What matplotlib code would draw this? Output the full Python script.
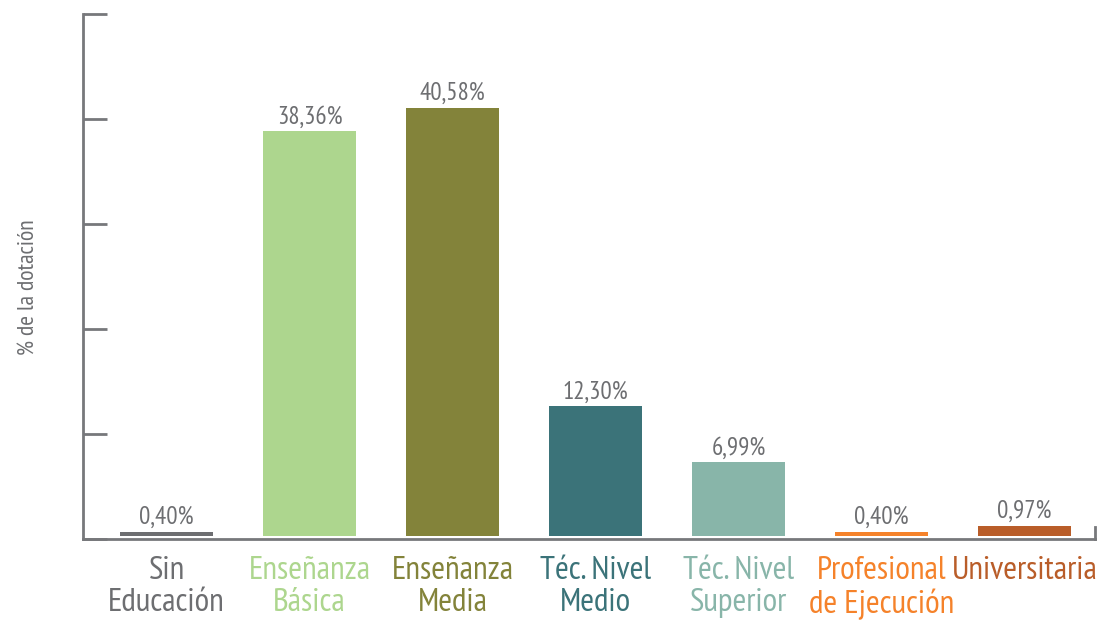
import numpy as np
import matplotlib
matplotlib.use('Agg')
import matplotlib.pyplot as plt
from matplotlib import font_manager

# data
categories = ['Sin\nEducación', 'Enseñanza\nBásica', 'Enseñanza\nMedia',
              'Téc. Nivel\nMedio', 'Téc. Nivel\nSuperior',
              'Profesional\nde Ejecución', 'Universitaria']
values = [0.40, 38.36, 40.58, 12.30, 6.99, 0.40, 0.97]
value_labels = ['0,40%', '38,36%', '40,58%', '12,30%', '6,99%', '0,40%', '0,97%']
colors = ['#6d6e71', '#add68e', '#83833a', '#3b7379', '#88b5a9', '#f5822a', '#b95d29']
label_colors = ['#6d6e71', '#add68e', '#83833a', '#3b7379', '#88b5a9', '#f5822a', '#b95d29']

# condensed font similar to the original
available = {f.name for f in font_manager.fontManager.ttflist}
font = 'DejaVu Sans'
for cand in ['PT Sans Narrow', 'Fira Sans Condensed', 'Asap Condensed', 'Barlow Condensed']:
    if cand in available:
        font = cand
        break
plt.rcParams['font.family'] = [font, 'DejaVu Sans']

gray = '#6d6e71'
axis_gray = '#77787b'

fig = plt.figure(figsize=(11, 6.22), dpi=100)
ax = fig.add_axes([83 / 1100, 1 - 539 / 622, 1012 / 1100, 525 / 622])

x = np.arange(len(categories))
bars = ax.bar(x, values, width=0.65, color=colors)

ymin, ymax = -0.28, 49.48
ax.set_ylim(ymin, ymax)
ax.set_xlim(-0.584, 6.493)

for b, lab in zip(bars, value_labels):
    ax.annotate(lab, (b.get_x() + b.get_width() / 2, b.get_height()),
                xytext=(0, 2), textcoords='offset points',
                ha='center', va='bottom', fontsize=18, color=gray)

ax.set_yticks(np.linspace(ymin, ymax, 6))
ax.set_yticklabels([])
ax.tick_params(axis='y', direction='in', length=17, width=2, color=axis_gray)

ax.set_xticks(x)
ax.set_xticklabels(categories, fontsize=24, linespacing=1.1)
ax.tick_params(axis='x', length=0, pad=12)
for t, c in zip(ax.get_xticklabels(), label_colors):
    t.set_color(c)

ax.spines['top'].set_visible(False)
for s in ['left', 'bottom', 'right']:
    ax.spines[s].set_color(axis_gray)
    ax.spines[s].set_linewidth(2)
ax.spines['right'].set_bounds(ymin, ymin + 1.14)

fig.text(29 / 1100, 1 - 287 / 622, '% de la dotación', rotation=90,
         ha='center', va='center', fontsize=17, color=gray)

fig.savefig('out.png', dpi=100)
